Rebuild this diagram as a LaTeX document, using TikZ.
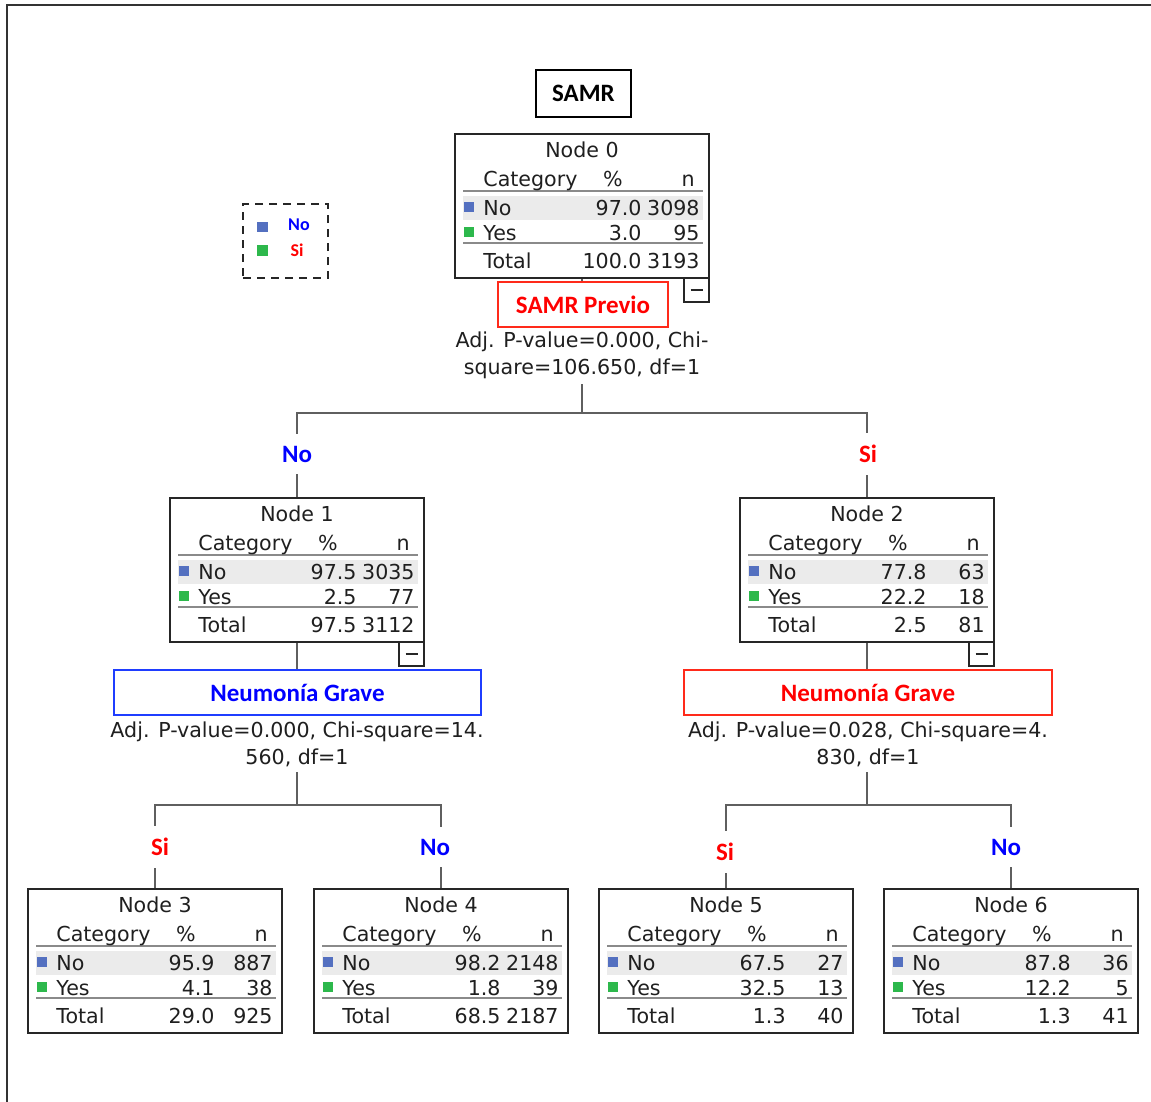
\documentclass[tikz,border=0pt]{standalone}
\usepackage{fontspec}
\setmainfont{DejaVu Sans}
\newfontfamily\calib{Carlito}
\usetikzlibrary{backgrounds}
\definecolor{bandcol}{HTML}{EBEBEB}
\definecolor{noblue}{HTML}{5470C0}
\definecolor{yesgreen}{HTML}{2DB84C}
\definecolor{conncol}{HTML}{5F5F5F}
\definecolor{sepcol}{HTML}{8A8A8A}
\definecolor{redlbl}{HTML}{FF0000}
\definecolor{bluelbl}{HTML}{0000FF}
\definecolor{redbox}{HTML}{FF2A1A}
\definecolor{bluebox}{HTML}{1F3DFF}
\tikzset{
 tt/.style={font=\fontsize{10.3}{12}\selectfont, inner sep=0pt, text=black!88},
 treebox/.style={draw=black!85, line width=1pt, minimum width=127pt, minimum height=72pt, inner sep=0pt, outer sep=0pt},
 minusbox/.style={draw=black!85, line width=1pt, minimum width=12.5pt, minimum height=12pt, inner sep=0pt, outer sep=0pt},
 sepline/.style={draw=sepcol, line width=1.4pt},
 conn/.style={draw=conncol, line width=1.4pt},
 boldfont/.style={font=\calib\bfseries\fontsize{12.5}{14}\selectfont},
 lbl/.style={boldfont, fill=white, inner xsep=2pt, inner ysep=6pt},
 splitbox/.style={boldfont, fill=white, line width=1pt, minimum height=22.5pt, inner sep=0pt, outer sep=0pt},
 adj/.style={tt, fill=white, inner xsep=1pt, inner ysep=3pt, anchor=base},
 legtext/.style={font=\calib\bfseries\fontsize{9}{10}\selectfont, inner sep=0pt},
}
\newcommand\spssnode[9]{%
\begin{scope}[shift={(#2,#3)}]
 \fill[bandcol] (8,62) rectangle (248,86);
 \draw[sepline] (8,57) -- (248,57);
 \draw[sepline] (8,109) -- (248,109);
 \fill[noblue] (9,68) rectangle (19,78);
 \fill[yesgreen] (9,93) rectangle (19,103);
 \node[tt, anchor=base] (t#1) at (127,23) {Node #1};
 \node[tt, anchor=base west] (hc#1) at (28,52) {Category};
 \node[tt, anchor=base] (hp#1) at (158,52) {\%};
 \node[tt, anchor=base east] (hn#1) at (240,52) {n};
 \node[tt, anchor=base west] (cno#1) at (28,81) {No};
 \node[tt, anchor=base east] (pno#1) at (187,81) {#4};
 \node[tt, anchor=base east] (nno#1) at (245,81) {#5};
 \node[tt, anchor=base west] (cye#1) at (28,106) {Yes};
 \node[tt, anchor=base east] (pye#1) at (187,106) {#6};
 \node[tt, anchor=base east] (nye#1) at (245,106) {#7};
 \node[tt, anchor=base west] (cto#1) at (28,134) {Total};
 \node[tt, anchor=base east] (pto#1) at (187,134) {#8};
 \node[tt, anchor=base east] (nto#1) at (245,134) {#9};
 \node[treebox, anchor=north west] (n#1) at (0,0) {};
\end{scope}}
\newcommand\minusat[1]{%
 \node[minusbox, anchor=north east] (m#1) at (n#1.south east) {};
 \draw[line width=0.8pt, black!85] ([xshift=-3pt]m#1.center) -- ([xshift=3pt]m#1.center);}
\begin{document}
\begin{tikzpicture}[x=0.5pt, y=-0.5pt]
\useasboundingbox (0,0) rectangle (1151,1102);
\draw[line width=1pt, black!80] (7,1102) -- (7,5) -- (1151,5);

% title
\node[draw=black, line width=1pt, minimum width=47.5pt, minimum height=23.5pt, boldfont, inner sep=0pt] (title) at (583.5,93.5) {SAMR};

% legend
\node[draw=black!85, line width=1pt, dash pattern=on 4pt off 3pt, minimum width=42.5pt, minimum height=37pt, inner sep=0pt] (legend) at (285.5,241) {};
\fill[noblue] (257,222) rectangle (268,232);
\fill[yesgreen] (257,245) rectangle (268,256);
\node[legtext, text=bluelbl] (lgno) at (299,225) {No};
\node[legtext, text=redlbl] (lgsi) at (297,250) {Si};

% tree nodes
\spssnode{0}{455}{134}{97.0}{3098}{3.0}{95}{100.0}{3193}
\spssnode{1}{170}{498}{97.5}{3035}{2.5}{77}{97.5}{3112}
\spssnode{2}{740}{498}{77.8}{63}{22.2}{18}{2.5}{81}
\spssnode{3}{28}{889}{95.9}{887}{4.1}{38}{29.0}{925}
\spssnode{4}{314}{889}{98.2}{2148}{1.8}{39}{68.5}{2187}
\spssnode{5}{599}{889}{67.5}{27}{32.5}{13}{1.3}{40}
\spssnode{6}{884}{889}{87.8}{36}{12.2}{5}{1.3}{41}
\minusat{0}
\minusat{1}
\minusat{2}

% split statistics
\node[adj] (a0a) at (582,347) {Adj. P-value=0.000, Chi-};
\node[adj] (a0b) at (582,374) {square=106.650, df=1};
\node[adj] (a1a) at (297,737) {Adj. P-value=0.000, Chi-square=14.};
\node[adj] (a1b) at (297,764) {560, df=1};
\node[adj] (a2a) at (868,737) {Adj. P-value=0.028, Chi-square=4.};
\node[adj] (a2b) at (868,764) {830, df=1};

% split variables
\node[splitbox, draw=redbox, text=redlbl, minimum width=85pt] (s0) at (583,304.5) {SAMR Previo};
\node[splitbox, draw=bluebox, text=bluelbl, minimum width=183.5pt] (s1) at (297.5,692.5) {Neumonía Grave};
\node[splitbox, draw=redbox, text=redlbl, minimum width=184pt] (s2) at (868,692.5) {Neumonía Grave};

% edge labels
\node[lbl, text=bluelbl] (e1) at (297,454) {No};
\node[lbl, text=redlbl] (e2) at (868,454) {Si};
\node[lbl, text=redlbl] (e3) at (160,847) {Si};
\node[lbl, text=bluelbl] (e4) at (435,847) {No};
\node[lbl, text=redlbl] (e5) at (725,852) {Si};
\node[lbl, text=bluelbl] (e6) at (1006,847) {No};

% connectors
\coordinate (h0) at (582,413);
\coordinate (h1) at (297,805);
\coordinate (h2) at (867,805);
\begin{pgfonlayer}{background}
\draw[conn] (n0.south) -- (h0) -| (n1.north);
\draw[conn] (h0) -| (n2.north);
\draw[conn] (n1.south) -- (h1) -| (n3.north);
\draw[conn] (h1) -| (n4.north);
\draw[conn] (n2.south) -- (h2) -| (n5.north);
\draw[conn] (h2) -| (n6.north);
\end{pgfonlayer}
\end{tikzpicture}
\end{document}
